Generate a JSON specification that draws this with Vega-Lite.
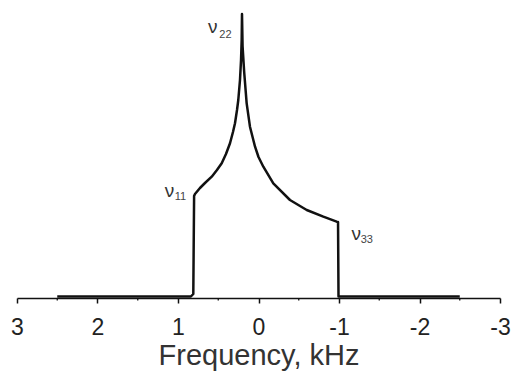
{
  "$schema": "https://vega.github.io/schema/vega-lite/v6.json",
  "width": 483,
  "height": 288,
  "autosize": {"type": "none"},
  "padding": {"left": 17, "top": 10, "right": 13, "bottom": 80},
  "background": "white",
  "config": {
    "view": {"stroke": null},
    "font": "Liberation Sans"
  },
  "datasets": {
    "spectrum": [
      {"i": 1, "f": 2.5, "v": 1.5},
      {"i": 2, "f": 0.84, "v": 1.5},
      {"i": 3, "f": 0.81, "v": 4},
      {"i": 4, "f": 0.80, "v": 102},
      {"i": 5, "f": 0.789, "v": 104},
      {"i": 6, "f": 0.727, "v": 110},
      {"i": 7, "f": 0.665, "v": 115},
      {"i": 8, "f": 0.581, "v": 121.3},
      {"i": 9, "f": 0.516, "v": 128},
      {"i": 10, "f": 0.457, "v": 134.7},
      {"i": 11, "f": 0.404, "v": 144},
      {"i": 12, "f": 0.354, "v": 154.7},
      {"i": 13, "f": 0.317, "v": 166},
      {"i": 14, "f": 0.292, "v": 174.7},
      {"i": 15, "f": 0.267, "v": 188},
      {"i": 16, "f": 0.251, "v": 198},
      {"i": 17, "f": 0.230, "v": 218},
      {"i": 18, "f": 0.217, "v": 238},
      {"i": 19, "f": 0.209, "v": 258},
      {"i": 20, "f": 0.205, "v": 284},
      {"i": 21, "f": 0.198, "v": 252},
      {"i": 22, "f": 0.178, "v": 226},
      {"i": 23, "f": 0.147, "v": 194.7},
      {"i": 24, "f": 0.106, "v": 171.3},
      {"i": 25, "f": 0.043, "v": 151.3},
      {"i": 26, "f": 0.0, "v": 141},
      {"i": 27, "f": -0.060, "v": 131.3},
      {"i": 28, "f": -0.184, "v": 114.7},
      {"i": 29, "f": -0.391, "v": 98},
      {"i": 30, "f": -0.599, "v": 88},
      {"i": 31, "f": -0.805, "v": 81.3},
      {"i": 32, "f": -0.971, "v": 76.3},
      {"i": 33, "f": -0.988, "v": 76},
      {"i": 34, "f": -0.994, "v": 1.5},
      {"i": 35, "f": -2.5, "v": 1.5}
    ],
    "nu": [
      {"t": "ν", "f": 0.568, "v": 265},
      {"t": "ν", "f": 1.105, "v": 101},
      {"t": "ν", "f": -1.215, "v": 58}
    ],
    "sub": [
      {"t": "22", "f": 0.41, "v": 260},
      {"t": "11", "f": 0.97, "v": 98},
      {"t": "33", "f": -1.345, "v": 55}
    ],
    "minor": [
      {"f": 2.5, "a": 0, "b": -2.5},
      {"f": 1.5, "a": 0, "b": -2.5},
      {"f": 0.5, "a": 0, "b": -2.5},
      {"f": -0.5, "a": 0, "b": -2.5},
      {"f": -1.5, "a": 0, "b": -2.5},
      {"f": -2.5, "a": 0, "b": -2.5}
    ]
  },
  "layer": [
    {
      "data": {"name": "spectrum"},
      "mark": {"type": "line", "color": "#111111", "strokeWidth": 2.5, "strokeJoin": "round"},
      "encoding": {
        "x": {
          "field": "f",
          "type": "quantitative",
          "scale": {"domain": [3, -3], "nice": false},
          "axis": {
            "values": [3, 2, 1, 0, -1, -2, -3],
            "labelExpr": "toString(datum.value)",
            "grid": false,
            "domainColor": "#111111",
            "domainWidth": 1.5,
            "tickColor": "#111111",
            "tickWidth": 1.5,
            "tickSize": 5,
            "labelFontSize": 23,
            "labelColor": "#222222",
            "labelPadding": 13,
            "labelFlush": false,
            "labelOverlap": false,
            "title": "Frequency, kHz",
            "titleFontSize": 29,
            "titleFontWeight": "normal",
            "titleColor": "#333333",
            "titlePadding": 2
          }
        },
        "y": {
          "field": "v",
          "type": "quantitative",
          "scale": {"domain": [0, 288], "nice": false, "zero": false},
          "axis": null
        },
        "order": {"field": "i", "type": "quantitative"}
      }
    },
    {
      "data": {"name": "minor"},
      "mark": {"type": "rule", "color": "#111111", "strokeWidth": 1.3},
      "encoding": {
        "x": {"field": "f", "type": "quantitative"},
        "y": {"field": "a", "type": "quantitative"},
        "y2": {"field": "b"}
      }
    },
    {
      "data": {"name": "nu"},
      "mark": {"type": "text", "fontSize": 19, "color": "#333333", "align": "center", "baseline": "alphabetic"},
      "encoding": {
        "x": {"field": "f", "type": "quantitative"},
        "y": {"field": "v", "type": "quantitative"},
        "text": {"field": "t"}
      }
    },
    {
      "data": {"name": "sub"},
      "mark": {"type": "text", "fontSize": 11, "color": "#444444", "align": "center", "baseline": "alphabetic"},
      "encoding": {
        "x": {"field": "f", "type": "quantitative"},
        "y": {"field": "v", "type": "quantitative"},
        "text": {"field": "t"}
      }
    }
  ]
}
